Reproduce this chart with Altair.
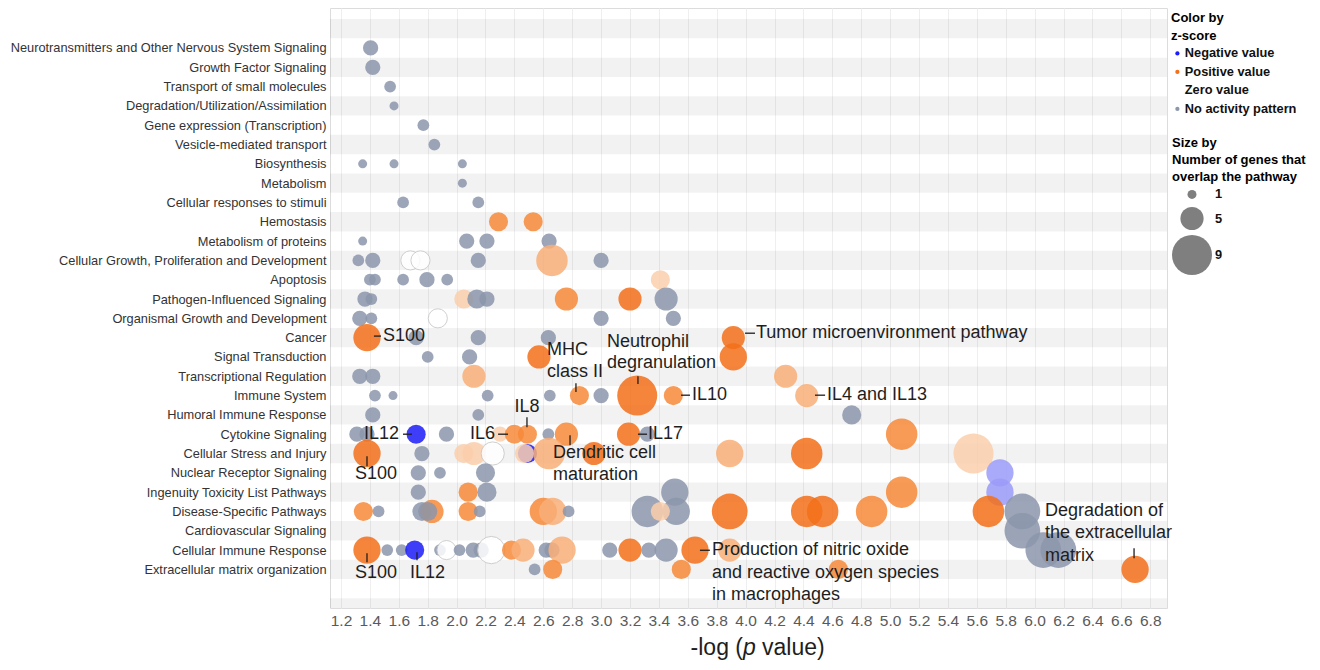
import json
import altair as alt
import pandas as pd

# ---------------- data ----------------
categories = [
    "Neurotransmitters and Other Nervous System Signaling",
    "Growth Factor Signaling",
    "Transport of small molecules",
    "Degradation/Utilization/Assimilation",
    "Gene expression (Transcription)",
    "Vesicle-mediated transport",
    "Biosynthesis",
    "Metabolism",
    "Cellular responses to stimuli",
    "Hemostasis",
    "Metabolism of proteins",
    "Cellular Growth, Proliferation and Development",
    "Apoptosis",
    "Pathogen-Influenced Signaling",
    "Organismal Growth and Development",
    "Cancer",
    "Signal Transduction",
    "Transcriptional Regulation",
    "Immune System",
    "Humoral Immune Response",
    "Cytokine Signaling",
    "Cellular Stress and Injury",
    "Nuclear Receptor Signaling",
    "Ingenuity Toxicity List Pathways",
    "Disease-Specific Pathways",
    "Cardiovascular Signaling",
    "Cellular Immune Response",
    "Extracellular matrix organization",
]

# -log(p) of each bubble, one list per pathway (same order as categories)
logp_rows = [
    [1.405],
    [1.42],
    [1.54],
    [1.567],
    [1.77],
    [1.846],
    [1.35, 1.567, 2.04],
    [2.04],
    [1.63, 2.15],
    [2.29, 2.53],
    [1.35, 2.07, 2.21, 2.64],
    [1.32, 1.42, 1.68, 1.75, 2.15, 2.66, 3.0],
    [1.40, 1.435, 1.63, 1.795, 1.935, 3.41],
    [1.366, 1.41, 2.05, 2.14, 2.21, 2.76, 3.2, 3.45],
    [1.33, 1.41, 1.87, 3.0, 3.5],
    [1.72, 1.38, 2.15, 2.635, 3.915],
    [1.80, 2.09, 2.57, 3.915],
    [1.33, 1.42, 2.12, 4.277],
    [1.435, 1.56, 2.215, 2.645, 2.85, 3.0, 3.25, 3.5, 4.423],
    [1.42, 2.15, 4.734],
    [1.31, 1.38, 1.72, 1.93, 2.30, 2.40, 2.49, 2.635, 2.76, 3.19, 3.32, 5.08],
    [1.38, 1.76, 2.05, 2.12, 2.25, 2.49, 2.47, 2.64, 2.95, 3.89, 4.423, 5.577],
    [1.735, 1.885, 2.2, 5.76],
    [1.735, 2.08, 2.21, 3.51, 5.08, 5.76],
    [1.355, 1.46, 1.76, 1.83, 1.80, 2.08, 2.16, 2.6, 2.665, 2.775, 3.32, 3.52, 3.41,
     3.89, 4.423, 4.533, 4.872, 5.68, 5.915],
    [5.915],
    [1.38, 1.52, 1.62, 1.71, 1.885, 1.93, 2.02, 2.115, 2.17, 2.24, 2.38, 2.46, 2.62,
     2.66, 2.73, 3.06, 3.2, 3.33, 3.45, 3.65, 3.89, 6.06, 6.164],
    [2.54, 2.665, 3.555, 4.642, 6.695],
]

# number of genes that overlap the pathway
genes_rows = [
    [3], [3], [2], [1], [2], [2],
    [1, 1, 1],
    [1],
    [2, 2],
    [4, 4],
    [1, 3, 3, 3],
    [2, 3, 4, 4, 3, 7, 3],
    [2, 2, 2, 3, 2, 4],
    [3, 2, 4, 4, 3, 5, 5, 5],
    [3, 2, 4, 3, 3],
    [3, 6, 3, 3, 5],
    [2, 3, 5, 6],
    [3, 3, 5, 5],
    [2, 1, 2, 2, 4, 3, 9, 4, 5],
    [3, 2, 4],
    [3, 3, 4, 3, 3, 4, 4, 2, 5, 5, 3, 7],
    [6, 3, 4, 5, 5, 4, 4, 7, 5, 6, 7, 9],
    [3, 2, 4, 6],
    [3, 4, 4, 6, 7, 6],
    [4, 2, 4, 5, 4, 4, 2, 6, 6, 2, 7, 6, 4, 8, 7, 7, 7, 7, 8],
    [8],
    [6, 2, 2, 4, 2, 4, 2, 3, 3, 6, 4, 5, 3, 3, 6, 3, 5, 3, 5, 6, 5, 8, 8],
    [2, 4, 4, 4, 6],
]

# z-score class: N none, P strong positive, M moderate positive, L weak positive,
# V slight positive, Z zero, B negative, W weak negative
zscore_rows = [
    "N", "N", "N", "N", "N", "N",
    "N N N",
    "N",
    "N N",
    "M M",
    "N N N N",
    "N N Z Z N L N",
    "N N N N N V",
    "N N V N N M P N",
    "N N Z N N",
    "N P N N P",
    "N N P P",
    "N N L L",
    "N N N N M N P M L",
    "N N N",
    "N N B N V M M N M P N M",
    "P N V V Z B V L P L P V",
    "N N N W",
    "N M N N M W",
    "M N N M N M N M L N N N V P P P M P N",
    "N",
    "P N N B N Z N N N Z M L N N L N P N N P L N N",
    "N M M M P",
]

z_labels = {
    "B": "Negative value", "P": "Positive value", "Z": "Zero value",
    "N": "No activity pattern", "M": "Positive value (moderate)",
    "L": "Positive value (weak)", "V": "Positive value (slight)",
    "W": "Negative value (weak)",
}
color_domain = ["Negative value", "Positive value", "Zero value", "No activity pattern",
                "Positive value (moderate)", "Positive value (weak)",
                "Positive value (slight)", "Negative value (weak)"]
color_range = ["#1D1DF8", "#F4701A", "#FFFFFF", "#8C97AC",
               "#F78A3A", "#F9AF78", "#FCCFAC", "#9C9CFA"]
legend_values = ["Negative value", "Positive value", "Zero value", "No activity pattern"]

x_ticks = [1.2, 1.4, 1.6, 1.8, 2.0, 2.2, 2.4, 2.6, 2.8, 3.0, 3.2, 3.4, 3.6, 3.8, 4.0,
           4.2, 4.4, 4.6, 4.8, 5.0, 5.2, 5.4, 5.6, 5.8, 6.0, 6.2, 6.4, 6.6, 6.8]
size_legend_values = [1, 5, 9]

# annotations (data coordinates: -log p, row index)
ann_left_text = ["S100", "S100", "S100", "IL12", "MHC", "class II", "Neutrophil",
                 "degranulation", "IL10", "IL17", "Dendritic cell", "maturation",
                 "Tumor microenvironment pathway", "IL4 and IL13",
                 "Production of nitric oxide", "and reactive oxygen species",
                 "in macrophages", "Degradation of", "the extracellular", "matrix"]
ann_left_x = [1.491, 1.297, 1.297, 1.678, 2.626, 2.626, 3.041, 3.041, 3.629, 3.325,
              2.667, 2.667, 4.072, 4.563, 3.767, 3.767, 3.767, 6.072, 6.072, 6.072]
ann_left_y = [14.92, 22.07, 27.2, 27.2, 15.65, 16.79, 15.23, 16.32, 17.98, 20.0,
              20.98, 22.12, 14.77, 17.98, 26.01, 27.2, 28.34, 23.99, 25.13, 26.32]
ann_right_text = ["IL12", "IL6"]
ann_right_x = [1.601, 2.266]
ann_right_y = [20.0, 20.0]
ann_center_text = ["IL8"]
ann_center_x = [2.487]
ann_center_y = [18.6]

lead_x = [1.428, 1.38, 1.38, 1.629, 1.726, 2.287, 2.487, 2.826, 3.255, 3.553, 3.255,
          2.785, 3.996, 4.48, 3.684, 6.688]
lead_x2 = [1.477, 1.38, 1.38, 1.691, 1.726, 2.356, 2.487, 2.826, 3.255, 3.615, 3.318,
           2.785, 4.065, 4.55, 3.753, 6.688]
lead_y = [14.92, 21.14, 26.17, 20.0, 26.11, 20.0, 19.12, 17.36, 17.0, 17.98, 20.0,
          20.05, 14.77, 17.98, 26.01, 25.91]
lead_y2 = [14.92, 21.66, 26.63, 20.0, 26.53, 20.0, 19.64, 17.82, 17.4, 17.98, 20.0,
           20.57, 14.77, 17.98, 26.01, 26.42]

x_title_parts = ["-log (", "p", "value)"]

# ---------------- build tables ----------------
recs = []
for i, (xs, ns, zs) in enumerate(zip(logp_rows, genes_rows, zscore_rows)):
    for x, n, z in zip(xs, ns, zs.split()):
        recs.append({"pathway": categories[i], "row": i, "logp": x, "genes": n,
                     "z": z_labels[z]})
bubbles = pd.DataFrame(recs)

stripes = pd.DataFrame({"r": list(range(-1, 30, 2))})
stripes["y0"] = stripes["r"] - 0.5
stripes["y1"] = stripes["r"] + 0.5

W, H = 837, 600
FONT = "Liberation Sans"

xsc = alt.Scale(domain=[1.124, 6.916], nice=False, zero=False)
ysc = alt.Scale(domain=[-2.07, 29.0], reverse=True, nice=False, zero=False)

xax = alt.Axis(values=x_ticks, format=".1f", title=None, grid=True, gridColor="#EFEFEF",
               ticks=False, domain=False, labelFontSize=15.5, labelColor="#5A5A5A",
               labelFont=FONT, labelPadding=5, labelFlush=False, labelOverlap=False)
yax = alt.Axis(values=list(range(len(categories))),
               labelExpr=json.dumps(categories) + "[datum.value]",
               title=None, grid=False, ticks=False, domain=False, labelFontSize=12.8,
               labelColor="#333333", labelFont=FONT, labelPadding=4, labelLimit=400)

stripe_layer = alt.Chart(stripes).mark_rect(color="#000000", opacity=0.05, clip=True).encode(
    x=alt.value(0), x2=alt.value(W),
    y=alt.Y("y0:Q", scale=ysc, axis=yax), y2="y1:Q",
)

bubble_layer = alt.Chart(bubbles).mark_circle(opacity=0.85, strokeWidth=1).encode(
    x=alt.X("logp:Q", scale=xsc, axis=xax),
    y=alt.Y("row:Q", scale=ysc, axis=yax),
    color=alt.Color("z:N", scale=alt.Scale(domain=color_domain, range=color_range),
                    legend=alt.Legend(title=["Color by", "z-score"], values=legend_values,
                                      orient="none", legendX=841, legendY=4,
                                      symbolSize=18, symbolType="circle",
                                      symbolStrokeWidth=0, symbolOpacity=1,
                                      rowPadding=4.5, labelOffset=1)),
    size=alt.Size("genes:Q", scale=alt.Scale(type="pow", exponent=2, domain=[1, 9],
                                             range=[81, 1600]),
                  legend=alt.Legend(title=["Size by", "Number of genes that",
                                           "\u00a0overlap the pathway"],
                                    orient="none", legendX=842, legendY=129,
                                    values=size_legend_values, symbolType="circle",
                                    symbolFillColor="#7F7F7F", symbolStrokeWidth=0,
                                    symbolOpacity=1, rowPadding=4.5, labelOffset=3,
                                    titleLineHeight=17)),
    stroke=alt.condition("datum.z === 'Zero value'", alt.value("#C8C8C8"),
                         alt.value("transparent")),
)

lead_df = pd.DataFrame({"x": lead_x, "x2": lead_x2, "y": lead_y, "y2": lead_y2})
lead_layer = alt.Chart(lead_df).mark_rule(color="#1E1E1E", strokeWidth=1.3).encode(
    x=alt.X("x:Q", scale=xsc, axis=xax), x2="x2:Q",
    y=alt.Y("y:Q", scale=ysc, axis=yax), y2="y2:Q",
)


def text_layer(texts, xs, ys, align):
    df = pd.DataFrame({"t": texts, "x": xs, "y": ys})
    return alt.Chart(df).mark_text(font=FONT, fontSize=18, color="#1E1E1E",
                                   align=align, baseline="middle").encode(
        x=alt.X("x:Q", scale=xsc, axis=xax),
        y=alt.Y("y:Q", scale=ysc, axis=yax),
        text="t:N",
    )


tl = text_layer(ann_left_text, ann_left_x, ann_left_y, "left")
tr = text_layer(ann_right_text, ann_right_x, ann_right_y, "right")
tc = text_layer(ann_center_text, ann_center_x, ann_center_y, "center")

# x axis title: "-log (" + italic "p" + "value)"
tdf1 = pd.DataFrame({"t": [x_title_parts[0]]})
tdf2 = pd.DataFrame({"t": [x_title_parts[1]]})
tdf3 = pd.DataFrame({"t": [x_title_parts[2]]})
TY = 640
t1 = alt.Chart(tdf1).mark_text(font=FONT, fontSize=23, color="#1E1E1E", align="right",
                               baseline="middle").encode(
    x=alt.value(413), y=alt.value(TY), text="t:N")
t2 = alt.Chart(tdf2).mark_text(font=FONT, fontSize=23, color="#1E1E1E", align="left",
                               baseline="middle", fontStyle="italic").encode(
    x=alt.value(413), y=alt.value(TY), text="t:N")
t3 = alt.Chart(tdf3).mark_text(font=FONT, fontSize=23, color="#1E1E1E", align="left",
                               baseline="middle").encode(
    x=alt.value(432), y=alt.value(TY), text="t:N")

chart = alt.layer(stripe_layer, bubble_layer, lead_layer, tl, tr, tc, t1, t2, t3).properties(
    width=W, height=H,
    autosize=alt.AutoSizeParams(type="none"),
    padding={"left": 322, "top": 0, "right": 145, "bottom": 54},
).configure_view(stroke="#DCDCDC", strokeWidth=1).configure_legend(
    padding=0,
    titleFont=FONT, titleFontSize=13, titleFontWeight="bold", titleColor="#000000",
    titleLineHeight=18, titlePadding=4, titleLimit=300,
    labelFont=FONT, labelFontSize=12.8, labelFontWeight="bold", labelColor="#111111",
    labelLimit=300,
)

chart.save("out.html", embed_options={"renderer": "svg", "actions": False})
